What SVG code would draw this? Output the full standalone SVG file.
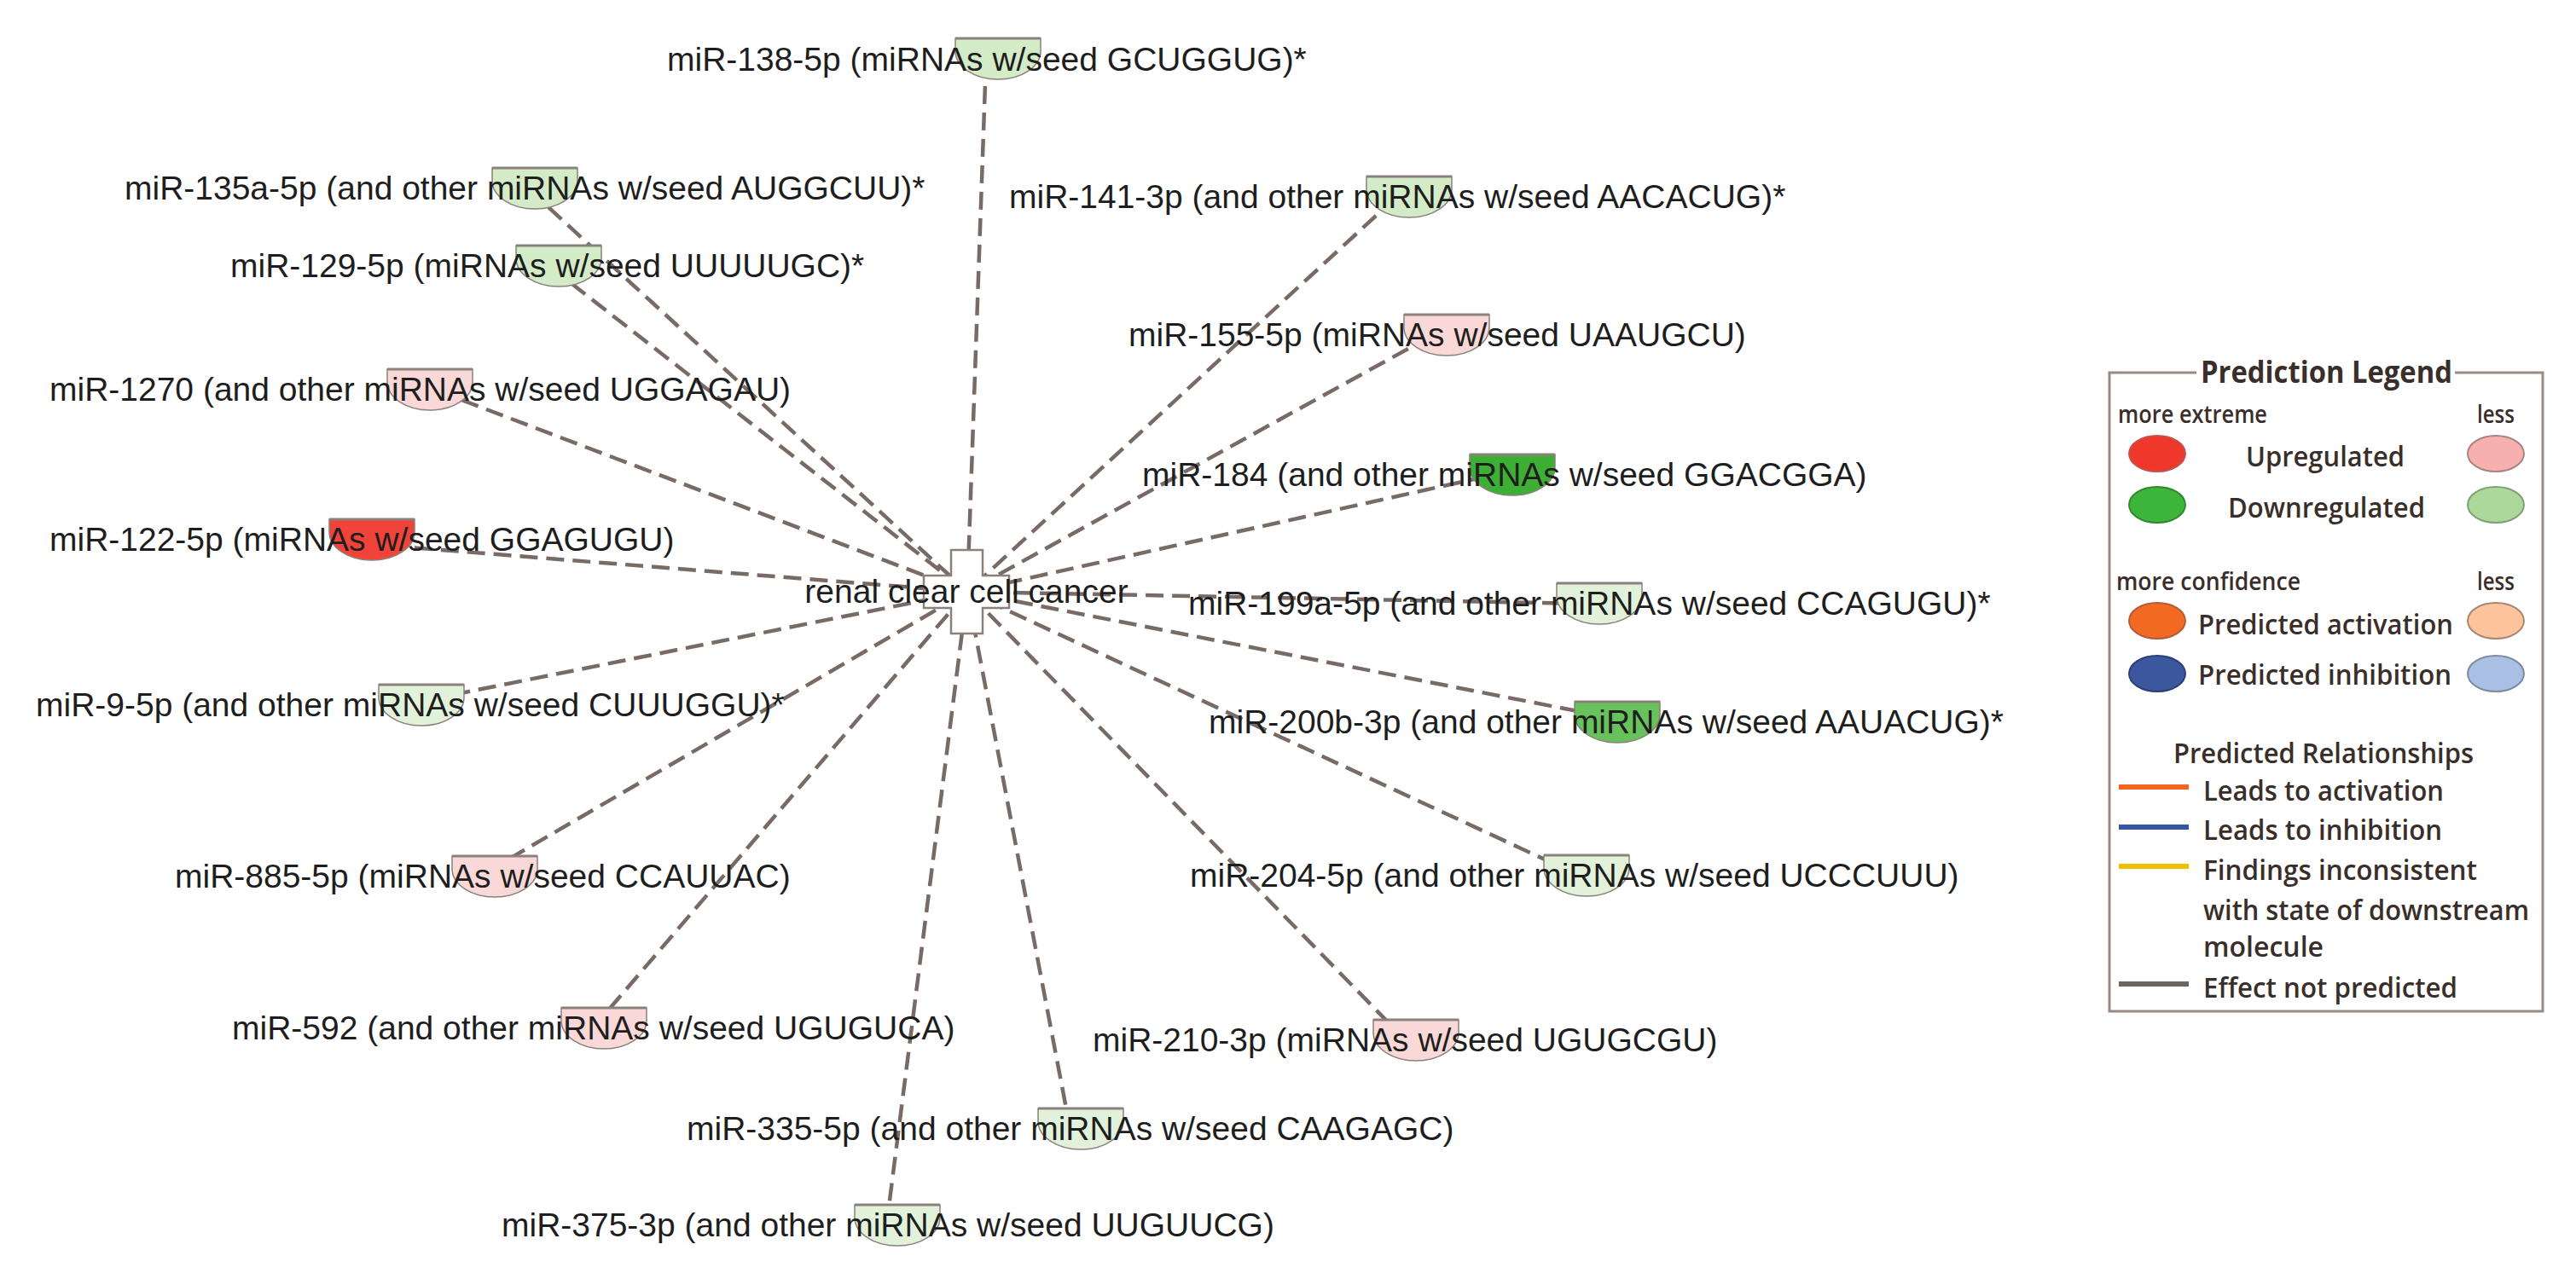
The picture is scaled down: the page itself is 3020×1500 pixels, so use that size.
<svg xmlns="http://www.w3.org/2000/svg" width="3020" height="1500" viewBox="0 0 3020 1500">
<defs>
<style>
.bg{fill:#ffffff}
.edge{stroke:#786b66;stroke-width:4.5;stroke-dasharray:21 10;fill:none}
.lbl{font-family:"Liberation Sans",Arial,sans-serif;font-size:39px;fill:#1e1e1e}
.mi{stroke:#8a817c;stroke-width:1.5}
.top{stroke:#8a817c;stroke-width:3}
.g1{fill:#d3ecc7}
.g0{fill:#e2f2da}
.gs{fill:#3daf35}
.gm{fill:#68c25c}
.r{fill:#f2433a}
.p{fill:#fad8d8}
.lg{font-family:"Open Sans","Noto Sans",sans-serif;fill:#3a2e2a;font-weight:600}
.lgs{font-size:28px}
.lgi{font-size:33px}
.lgt{font-size:36px;font-weight:bold}
.ell{stroke-width:2}
.lline{stroke-width:6;fill:none}
</style>
<path id="mir" d="M0,0 h100 v15 a50,33 0 0 1 -100,0 z"/>
</defs>
<rect class="bg" x="0" y="0" width="3020" height="1500"/>

<g id="connectors">
<line class="edge" x1="1156" y1="70" x2="1134" y2="694"/>
<line class="edge" x1="620" y1="222" x2="1134" y2="694"/>
<line class="edge" x1="645" y1="313" x2="1134" y2="694"/>
<line class="edge" x1="1636" y1="232" x2="1134" y2="694"/>
<line class="edge" x1="1678" y1="394" x2="1134" y2="694"/>
<line class="edge" x1="512" y1="458" x2="1134" y2="694"/>
<line class="edge" x1="1773" y1="552" x2="1134" y2="694"/>
<line class="edge" x1="455" y1="640" x2="1134" y2="694"/>
<line class="edge" x1="1860" y1="708" x2="1134" y2="694"/>
<line class="edge" x1="500" y1="821" x2="1134" y2="694"/>
<line class="edge" x1="1880" y1="840" x2="1134" y2="694"/>
<line class="edge" x1="570" y1="1023" x2="1134" y2="694"/>
<line class="edge" x1="1850" y1="1026" x2="1134" y2="694"/>
<line class="edge" x1="694" y1="1207" x2="1134" y2="694"/>
<line class="edge" x1="1650" y1="1222" x2="1134" y2="694"/>
<line class="edge" x1="1255" y1="1326" x2="1134" y2="694"/>
<line class="edge" x1="1039" y1="1439" x2="1134" y2="694"/>
</g>

<g id="renal-clear-cell-cancer">
<polygon points="1115,645 1152,645 1152,675 1183,675 1183,713 1152,713 1152,743 1115,743 1115,713 1083,713 1083,675 1115,675" fill="#ffffff" stroke="#8a817c" stroke-width="2.5"/>
<text class="lbl" x="1133" y="707" text-anchor="middle">renal clear cell cancer</text>
</g>

<g id="miR-138-5p"><use href="#mir" class="mi g1" x="1120" y="45"/><line class="top" x1="1120" y1="45" x2="1220" y2="45"/><text class="lbl" x="782" y="83">miR-138-5p (miRNAs w/seed GCUGGUG)*</text></g>
<g id="miR-135a-5p"><use href="#mir" class="mi g1" x="577" y="197"/><line class="top" x1="577" y1="197" x2="677" y2="197"/><text class="lbl" x="146" y="234">miR-135a-5p (and other miRNAs w/seed AUGGCUU)*</text></g>
<g id="miR-141-3p"><use href="#mir" class="mi g1" x="1602" y="207"/><line class="top" x1="1602" y1="207" x2="1702" y2="207"/><text class="lbl" x="1183" y="244">miR-141-3p (and other miRNAs w/seed AACACUG)*</text></g>
<g id="miR-129-5p"><use href="#mir" class="mi g1" x="605" y="288"/><line class="top" x1="605" y1="288" x2="705" y2="288"/><text class="lbl" x="270" y="325">miR-129-5p (miRNAs w/seed UUUUUGC)*</text></g>
<g id="miR-155-5p"><use href="#mir" class="mi p" x="1646" y="369"/><line class="top" x1="1646" y1="369" x2="1746" y2="369"/><text class="lbl" x="1323" y="406">miR-155-5p (miRNAs w/seed UAAUGCU)</text></g>
<g id="miR-1270"><use href="#mir" class="mi p" x="454" y="433"/><line class="top" x1="454" y1="433" x2="554" y2="433"/><text class="lbl" x="58" y="470">miR-1270 (and other miRNAs w/seed UGGAGAU)</text></g>
<g id="miR-184"><use href="#mir" class="mi gs" x="1723" y="533"/><line class="top" x1="1723" y1="533" x2="1823" y2="533"/><text class="lbl" x="1339" y="570">miR-184 (and other miRNAs w/seed GGACGGA)</text></g>
<g id="miR-122-5p"><use href="#mir" class="mi r" x="386" y="609"/><line class="top" x1="386" y1="609" x2="486" y2="609"/><text class="lbl" x="58" y="646">miR-122-5p (miRNAs w/seed GGAGUGU)</text></g>
<g id="miR-199a-5p"><use href="#mir" class="mi g0" x="1825" y="684"/><line class="top" x1="1825" y1="684" x2="1925" y2="684"/><text class="lbl" x="1393" y="721">miR-199a-5p (and other miRNAs w/seed CCAGUGU)*</text></g>
<g id="miR-9-5p"><use href="#mir" class="mi g0" x="444" y="803"/><line class="top" x1="444" y1="803" x2="544" y2="803"/><text class="lbl" x="42" y="840">miR-9-5p (and other miRNAs w/seed CUUUGGU)*</text></g>
<g id="miR-200b-3p"><use href="#mir" class="mi gm" x="1846" y="823"/><line class="top" x1="1846" y1="823" x2="1946" y2="823"/><text class="lbl" x="1417" y="860">miR-200b-3p (and other miRNAs w/seed AAUACUG)*</text></g>
<g id="miR-885-5p"><use href="#mir" class="mi p" x="530" y="1004"/><line class="top" x1="530" y1="1004" x2="630" y2="1004"/><text class="lbl" x="205" y="1041">miR-885-5p (miRNAs w/seed CCAUUAC)</text></g>
<g id="miR-204-5p"><use href="#mir" class="mi g0" x="1810" y="1003"/><line class="top" x1="1810" y1="1003" x2="1910" y2="1003"/><text class="lbl" x="1395" y="1040">miR-204-5p (and other miRNAs w/seed UCCCUUU)</text></g>
<g id="miR-592"><use href="#mir" class="mi p" x="658" y="1182"/><line class="top" x1="658" y1="1182" x2="758" y2="1182"/><text class="lbl" x="272" y="1219">miR-592 (and other miRNAs w/seed UGUGUCA)</text></g>
<g id="miR-210-3p"><use href="#mir" class="mi p" x="1610" y="1196"/><line class="top" x1="1610" y1="1196" x2="1710" y2="1196"/><text class="lbl" x="1281" y="1233">miR-210-3p (miRNAs w/seed UGUGCGU)</text></g>
<g id="miR-335-5p"><use href="#mir" class="mi g0" x="1217" y="1300"/><line class="top" x1="1217" y1="1300" x2="1317" y2="1300"/><text class="lbl" x="805" y="1337">miR-335-5p (and other miRNAs w/seed CAAGAGC)</text></g>
<g id="miR-375-3p"><use href="#mir" class="mi g0" x="1002" y="1413"/><line class="top" x1="1002" y1="1413" x2="1102" y2="1413"/><text class="lbl" x="588" y="1450">miR-375-3p (and other miRNAs w/seed UUGUUCG)</text></g>

<g id="legend">
<path d="M2575,437 H2473 V1186 H2981 V437 H2878" fill="none" stroke="#9a8a86" stroke-width="3"/>
<text class="lg lgt" x="2580" y="449" textLength="295" lengthAdjust="spacingAndGlyphs">Prediction Legend</text>
<text class="lg lgs" x="2483" y="496" textLength="175" lengthAdjust="spacingAndGlyphs">more extreme</text>
<text class="lg lgs" x="2904" y="496" textLength="44" lengthAdjust="spacingAndGlyphs">less</text>
<ellipse class="ell" cx="2529" cy="532" rx="33" ry="21" fill="#f0372c" stroke="#c4524c"/>
<ellipse class="ell" cx="2926" cy="532" rx="33" ry="21" fill="#f7b0b0" stroke="#a88480"/>
<text class="lg lgi" x="2633" y="547" textLength="186" lengthAdjust="spacingAndGlyphs">Upregulated</text>
<ellipse class="ell" cx="2529" cy="592" rx="33" ry="21" fill="#3db53a" stroke="#2f8a2e"/>
<ellipse class="ell" cx="2926" cy="592" rx="33" ry="21" fill="#acd89c" stroke="#7fa078"/>
<text class="lg lgi" x="2612" y="607" textLength="231" lengthAdjust="spacingAndGlyphs">Downregulated</text>
<text class="lg lgs" x="2481" y="692" textLength="216" lengthAdjust="spacingAndGlyphs">more confidence</text>
<text class="lg lgs" x="2904" y="692" textLength="44" lengthAdjust="spacingAndGlyphs">less</text>
<ellipse class="ell" cx="2529" cy="728" rx="33" ry="21" fill="#f26a22" stroke="#b45a3a"/>
<ellipse class="ell" cx="2926" cy="728" rx="33" ry="21" fill="#fcc39c" stroke="#a88670"/>
<text class="lg lgi" x="2577" y="744" textLength="299" lengthAdjust="spacingAndGlyphs">Predicted activation</text>
<ellipse class="ell" cx="2529" cy="790" rx="33" ry="21" fill="#3b579e" stroke="#2c3f76"/>
<ellipse class="ell" cx="2926" cy="790" rx="33" ry="21" fill="#a9c0e4" stroke="#7d8aa0"/>
<text class="lg lgi" x="2577" y="803" textLength="297" lengthAdjust="spacingAndGlyphs">Predicted inhibition</text>
<text class="lg lgi" x="2548" y="895" textLength="352" lengthAdjust="spacingAndGlyphs">Predicted Relationships</text>
<line class="lline" x1="2484" y1="923" x2="2566" y2="923" stroke="#f26522"/>
<text class="lg lgi" x="2583" y="939" textLength="282" lengthAdjust="spacingAndGlyphs">Leads to activation</text>
<line class="lline" x1="2484" y1="970" x2="2566" y2="970" stroke="#3555a5"/>
<text class="lg lgi" x="2583" y="985" textLength="280" lengthAdjust="spacingAndGlyphs">Leads to inhibition</text>
<line class="lline" x1="2484" y1="1016" x2="2566" y2="1016" stroke="#eec000"/>
<text class="lg lgi" x="2583" y="1032" textLength="321" lengthAdjust="spacingAndGlyphs">Findings inconsistent</text>
<text class="lg lgi" x="2583" y="1079" textLength="382" lengthAdjust="spacingAndGlyphs">with state of downstream</text>
<text class="lg lgi" x="2583" y="1122" textLength="141" lengthAdjust="spacingAndGlyphs">molecule</text>
<line class="lline" x1="2484" y1="1154" x2="2566" y2="1154" stroke="#6e625e"/>
<text class="lg lgi" x="2583" y="1170" textLength="298" lengthAdjust="spacingAndGlyphs">Effect not predicted</text>
</g>
</svg>
